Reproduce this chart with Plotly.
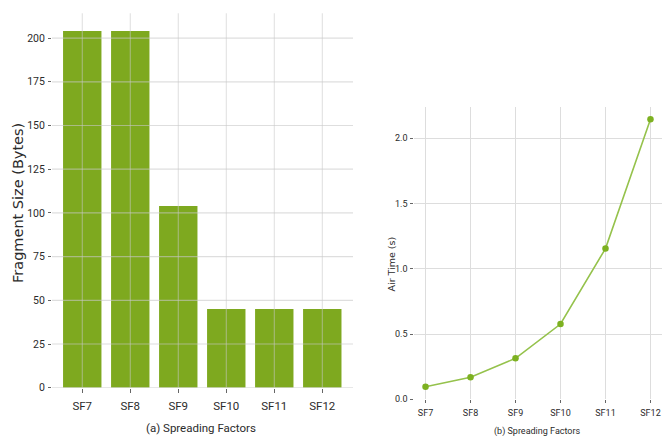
import plotly.graph_objects as go

# Spreading factors shared by both panels
spreading_factors = ["SF7", "SF8", "SF9", "SF10", "SF11", "SF12"]

# (a) maximum fragment size per spreading factor, in bytes
fragment_size = [204, 204, 104, 45, 45, 45]
fragment_ticks = [0, 25, 50, 75, 100, 125, 150, 175, 200]

# (b) air time per spreading factor, in seconds
air_time = [0.097, 0.169, 0.314, 0.577, 1.155, 2.146]
air_ticks = [0.0, 0.5, 1.0, 1.5, 2.0]
air_tick_text = ["0.0", "0.5", "1.0", "1.5", "2.0"]

BAR_GREEN = "#7ea91f"
LINE_GREEN = "#95c24c"
MARK_GREEN = "#7db121"
GRID = "#dddddd"
GRID_OVER = "rgba(200,200,200,0.6)"
TEXT = "#2b2b2b"

NARROW = "Liberation Sans Narrow, Roboto, Liberation Sans, sans-serif"
WIDE = "DejaVu Sans, Verdana, sans-serif"

fig = go.Figure()

fig.add_trace(go.Bar(
    x=spreading_factors, y=fragment_size,
    marker=dict(color=BAR_GREEN, line=dict(width=0)),
    width=0.8, xaxis="x", yaxis="y", showlegend=False,
))

fig.add_trace(go.Scatter(
    x=spreading_factors, y=air_time, mode="lines+markers",
    line=dict(color=LINE_GREEN, width=1.6),
    marker=dict(color=MARK_GREEN, size=6.5),
    xaxis="x2", yaxis="y2", showlegend=False,
))

# Grid of panel (a) is drawn above the bars
shapes = []
for sf in spreading_factors:
    shapes.append(dict(type="line", xref="x", yref="y domain", x0=sf, x1=sf, y0=0, y1=1,
                       line=dict(color=GRID_OVER, width=1), layer="above"))
for v in fragment_ticks:
    shapes.append(dict(type="line", xref="x domain", yref="y", x0=0, x1=1, y0=v, y1=v,
                       line=dict(color=GRID_OVER, width=1.2), layer="above"))

tick_font_a = dict(family=NARROW, size=11.5, color=TEXT)
tick_font_ay = dict(family=NARROW, size=10.5, color=TEXT)
tick_font_b = dict(family=NARROW, size=9, color=TEXT)

common = dict(automargin=False, zeroline=False, showline=False,
              ticks="outside", tickcolor="#666666", tickwidth=1)

fig.update_layout(
    width=672, height=443,
    margin=dict(l=0, r=0, t=0, b=0, autoexpand=False),
    paper_bgcolor="white", plot_bgcolor="white",
    bargap=0.2,
    shapes=shapes,
    xaxis=dict(
        domain=[0.0774, 0.5253], range=[-0.63, 5.64],
        categoryorder="array", categoryarray=spreading_factors,
        showgrid=False, ticklen=4, ticklabelstandoff=3, tickfont=tick_font_a, **common,
    ),
    yaxis=dict(
        domain=[0.1248, 0.970], range=[0, 214.2],
        tickvals=fragment_ticks, showgrid=False, ticklen=3, ticklabelstandoff=1,
        tickfont=tick_font_ay, **common,
    ),
    xaxis2=dict(
        domain=[0.6165, 0.9847], range=[-0.25, 5.25], anchor="y2",
        categoryorder="array", categoryarray=spreading_factors,
        showgrid=True, gridcolor=GRID, gridwidth=1, ticklen=3, ticklabelstandoff=2,
        tickfont=tick_font_b, **common,
    ),
    yaxis2=dict(
        domain=[0.0986, 0.7591], range=[0, 2.242], anchor="x2",
        tickvals=air_ticks, ticktext=air_tick_text,
        showgrid=True, gridcolor=GRID, gridwidth=1, ticklen=3, ticklabelstandoff=1,
        tickfont=tick_font_b, **common,
    ),
    annotations=[
        dict(text="Fragment Size (Bytes)", xref="paper", yref="paper", x=18 / 672, y=1 - 203 / 443,
             textangle=-90, showarrow=False, xanchor="center", yanchor="middle",
             font=dict(family=WIDE, size=14.5, color=TEXT)),
        dict(text="(a) Spreading Factors", xref="paper", yref="paper", x=200.5 / 672, y=1 - 428 / 443,
             showarrow=False, xanchor="center", yanchor="middle",
             font=dict(family=NARROW, size=11.5, color=TEXT)),
        dict(text="Air Time (s)", xref="paper", yref="paper", x=391 / 672, y=1 - 264.5 / 443,
             textangle=-90, showarrow=False, xanchor="center", yanchor="middle",
             font=dict(family=WIDE, size=9.5, color=TEXT)),
        dict(text="(b) Spreading Factors", xref="paper", yref="paper", x=537.5 / 672, y=1 - 431.7 / 443,
             showarrow=False, xanchor="center", yanchor="middle",
             font=dict(family=NARROW, size=9, color=TEXT)),
    ],
)

fig.write_html("out.html")
